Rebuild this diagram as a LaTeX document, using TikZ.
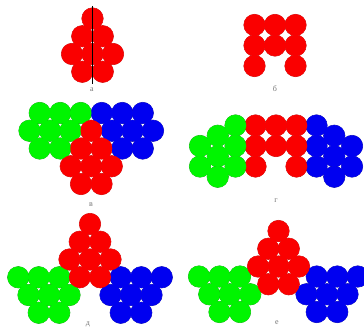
\documentclass[tikz,border=0pt]{standalone}
\usepackage{fontspec}
\setmainfont{Liberation Serif}
\definecolor{ballred}{RGB}{250,0,0}
\definecolor{ballgreen}{RGB}{0,245,0}
\definecolor{ballblue}{RGB}{0,0,240}
\definecolor{rimred}{RGB}{185,0,0}
\definecolor{rimgreen}{RGB}{0,150,0}
\definecolor{rimblue}{RGB}{0,0,150}

\begin{document}
\begin{tikzpicture}[x=1pt,y=-1pt]
  \tikzstyle{ball}=[circle,inner sep=0pt,minimum size=21.5pt,line width=0.5pt]
  \tikzstyle{rb}=[ball,draw=rimred]
  \tikzstyle{gb}=[ball,draw=rimgreen]
  \tikzstyle{bb}=[ball,draw=rimblue]
  \tikzstyle{lbl}=[text=black!55,font=\fontsize{8}{9}\selectfont,inner sep=0pt]
  \def\rad{10.75pt}

  \useasboundingbox (0,0) rectangle (364,329);

  % a
  \foreach \x/\y [count=\i] in {92.5/18.5,82.25/36.25,102.75/36.25,72/54,92.5/54,113/54,82.25/71.75,102.75/71.75}
    \node[rb] (a\i) at (\x,\y) {};
  \foreach \i in {1,...,8} \fill[ballred] (a\i) circle[radius=\rad];
  \coordinate (atop) at (92.5,6);
  \coordinate (abot) at (92.5,84);
  \draw[black,line width=0.5pt] (atop) -- (abot);
  \node[lbl] (la) at (92,90) {а};

  % b
  \foreach \x/\y [count=\i] in {254.5/25,275/25,295.5/25,254.5/45.5,275/45.5,295.5/45.5,254.5/66,295.5/66}
    \node[rb] (b\i) at (\x,\y) {};
  \foreach \i in {1,...,8} \fill[ballred] (b\i) circle[radius=\rad];
  \node[lbl] (lb) at (275,89) {б};

  % v
  \foreach \x/\y [count=\i] in {39.75/113,60.25/113,80.75/113,29.5/130.75,50/130.75,70.5/130.75,39.75/148.5,60.25/148.5}
    \node[gb] (vg\i) at (\x,\y) {};
  \foreach \x/\y [count=\i] in {101.75/113,122.25/113,142.75/113,112/130.75,132.5/130.75,153/130.75,122.25/148.5,142.75/148.5}
    \node[bb] (vb\i) at (\x,\y) {};
  \foreach \x/\y [count=\i] in {91.25/130.75,81/148.5,101.5/148.5,70.75/166.25,91.25/166.25,111.75/166.25,81/184,101.5/184}
    \node[rb] (vr\i) at (\x,\y) {};
  \foreach \i in {1,...,8} {
    \fill[ballgreen] (vg\i) circle[radius=\rad];
    \fill[ballblue] (vb\i) circle[radius=\rad];
  }
  \foreach \i in {1,...,8} \fill[ballred] (vr\i) circle[radius=\rad];
  \node[lbl] (lv) at (91,205) {в};

  % g
  \foreach \x/\y [count=\i] in {200/146,200/166.5,217.75/135.75,217.75/156.25,217.75/176.75,235.5/125.5,235.5/146,235.5/166.5}
    \node[gb] (gg\i) at (\x,\y) {};
  \foreach \x/\y [count=\i] in {255.5/125.5,276/125.5,296.5/125.5,255.5/146,276/146,296.5/146,255.5/166.5,296.5/166.5}
    \node[rb] (gr\i) at (\x,\y) {};
  \foreach \x/\y [count=\i] in {316.5/125.5,316.5/146,316.5/166.5,334.25/135.75,334.25/156.25,334.25/176.75,352/146,352/166.5}
    \node[bb] (gb\i) at (\x,\y) {};
  \foreach \i in {1,...,8} {
    \fill[ballgreen] (gg\i) circle[radius=\rad];
    \fill[ballred] (gr\i) circle[radius=\rad];
    \fill[ballblue] (gb\i) circle[radius=\rad];
  }
  \node[lbl] (lg) at (276,201) {г};

  % d
  \foreach \x/\y [count=\i] in {90/224,79.75/241.75,100.25/241.75,69.5/259.5,90/259.5,110.5/259.5,79.75/277.25,100.25/277.25}
    \node[rb] (dr\i) at (\x,\y) {};
  \foreach \x/\y [count=\i] in {18.25/277.25,38.75/277.25,59.25/277.25,28.5/295,49/295,69.5/295,38.75/312.75,59.25/312.75}
    \node[gb] (dg\i) at (\x,\y) {};
  \foreach \x/\y [count=\i] in {120.75/277.25,141.25/277.25,161.75/277.25,110.5/295,131/295,151.5/295,120.75/312.75,141.25/312.75}
    \node[bb] (db\i) at (\x,\y) {};
  \foreach \i in {1,...,8} {
    \fill[ballred] (dr\i) circle[radius=\rad];
    \fill[ballgreen] (dg\i) circle[radius=\rad];
    \fill[ballblue] (db\i) circle[radius=\rad];
  }
  \node[lbl] (ld) at (88,324) {д};

  % e
  \foreach \x/\y [count=\i] in {278.5/231,268.25/248.75,288.75/248.75,258/266.5,278.5/266.5,299/266.5,268.25/284.25,288.75/284.25}
    \node[rb] (er\i) at (\x,\y) {};
  \foreach \x/\y [count=\i] in {199/276.5,219.5/276.5,240/276.5,209.25/294.25,229.75/294.25,250.25/294.25,219.5/312,240/312}
    \node[gb] (eg\i) at (\x,\y) {};
  \foreach \x/\y [count=\i] in {316.75/276.5,337.25/276.5,357.75/276.5,306.5/294.25,327/294.25,347.5/294.25,316.75/312,337.25/312}
    \node[bb] (eb\i) at (\x,\y) {};
  \foreach \i in {1,...,8} {
    \fill[ballred] (er\i) circle[radius=\rad];
    \fill[ballgreen] (eg\i) circle[radius=\rad];
    \fill[ballblue] (eb\i) circle[radius=\rad];
  }
  \node[lbl] (le) at (277,323) {е};
\end{tikzpicture}
\end{document}
